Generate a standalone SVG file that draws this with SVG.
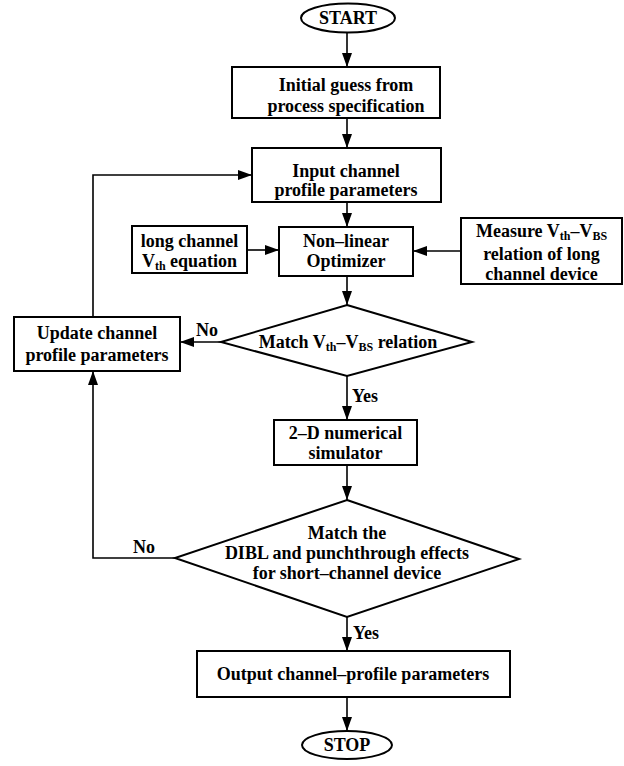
<svg xmlns="http://www.w3.org/2000/svg" width="624" height="766" viewBox="0 0 624 766">
<defs>
<style>
.n{fill:#fff;stroke:#000;stroke-width:2}
.t{font-family:"Liberation Serif","Times New Roman",serif;font-weight:bold;font-size:18px;fill:#000;text-anchor:middle}
.l{font-family:"Liberation Serif","Times New Roman",serif;font-weight:bold;font-size:18px;fill:#000}
.s{font-size:12px}
.c{fill:none;stroke:#000;stroke-width:1.6}
</style>
<marker id="a" markerUnits="userSpaceOnUse" markerWidth="14" markerHeight="10" refX="14" refY="5" orient="auto">
<path d="M0,0 L14,5 L0,10 z" fill="#000"/>
</marker>
</defs>
<rect width="624" height="766" fill="#fff"/>
<g id="connectors">
<path class="c" d="M347,32.5 V67" marker-end="url(#a)"/>
<path class="c" d="M347,118 V148" marker-end="url(#a)"/>
<path class="c" d="M347,202 V227" marker-end="url(#a)"/>
<path class="c" d="M247,250 H279" marker-end="url(#a)"/>
<path class="c" d="M461,251 H413" marker-end="url(#a)"/>
<path class="c" d="M347,276 V305" marker-end="url(#a)"/>
<path class="c" d="M221,342 H180" marker-end="url(#a)"/>
<path class="c" d="M93,317 V175 H252" marker-end="url(#a)"/>
<path class="c" d="M347,376 V420" marker-end="url(#a)"/>
<path class="c" d="M347,465 V500" marker-end="url(#a)"/>
<path class="c" d="M175,558 H93 V371" marker-end="url(#a)"/>
<path class="c" d="M347,617 V651" marker-end="url(#a)"/>
<path class="c" d="M347,697 V731" marker-end="url(#a)"/>
<text class="l" x="196" y="336">No</text>
<text class="l" x="352" y="402">Yes</text>
<text class="l" x="133" y="553">No</text>
<text class="l" x="353" y="639">Yes</text>
</g>
<g id="start">
<ellipse class="n" cx="348" cy="18" rx="47" ry="14.5"/>
<text class="t" x="348" y="24">START</text>
</g>
<g id="initial">
<rect class="n" x="232" y="67" width="208" height="51"/>
<text class="t" x="346" y="91">Initial guess from</text>
<text class="t" x="346" y="112">process specification</text>
</g>
<g id="input">
<rect class="n" x="252" y="148" width="189" height="54"/>
<text class="t" x="346" y="177">Input channel</text>
<text class="t" x="346" y="196">profile parameters</text>
</g>
<g id="longchannel">
<rect class="n" x="132" y="226" width="115" height="47"/>
<text class="t" x="189.5" y="247">long channel</text>
<text class="t" x="189.5" y="267">V<tspan class="s" dy="3">th</tspan><tspan dy="-3"> equation</tspan></text>
</g>
<g id="optimizer">
<rect class="n" x="279" y="227" width="134" height="49"/>
<text class="t" x="346" y="247">Non–linear</text>
<text class="t" x="346" y="267">Optimizer</text>
</g>
<g id="measure">
<rect class="n" x="461" y="218" width="161" height="66"/>
<text class="t" x="541.5" y="237">Measure V<tspan class="s" dy="3">th</tspan><tspan dy="-3">–V</tspan><tspan class="s" dy="3">BS</tspan></text>
<text class="t" x="541.5" y="259.5">relation of long</text>
<text class="t" x="541.5" y="280">channel device</text>
</g>
<g id="match1">
<polygon class="n" points="347,305 472,342 347,376 221,342"/>
<text class="t" x="348" y="348">Match V<tspan class="s" dy="3">th</tspan><tspan dy="-3">–V</tspan><tspan class="s" dy="3">BS</tspan><tspan dy="-3"> relation</tspan></text>
</g>
<g id="update">
<rect class="n" x="14" y="317" width="166" height="54"/>
<text class="t" x="97" y="339">Update channel</text>
<text class="t" x="97" y="361">profile parameters</text>
</g>
<g id="simulator">
<rect class="n" x="274" y="420" width="143" height="45"/>
<text class="t" x="345.5" y="439">2–D numerical</text>
<text class="t" x="345.5" y="459">simulator</text>
</g>
<g id="match2">
<polygon class="n" points="347,500 519,559 347,617 175,558"/>
<text class="t" x="347" y="539">Match the</text>
<text class="t" x="347" y="559">DIBL and punchthrough effects</text>
<text class="t" x="347" y="579">for short–channel device</text>
</g>
<g id="output">
<rect class="n" x="197" y="651" width="313" height="46"/>
<text class="t" x="353" y="680">Output channel–profile parameters</text>
</g>
<g id="stop">
<ellipse class="n" cx="347" cy="745" rx="45" ry="14"/>
<text class="t" x="347" y="751">STOP</text>
</g>
</svg>
